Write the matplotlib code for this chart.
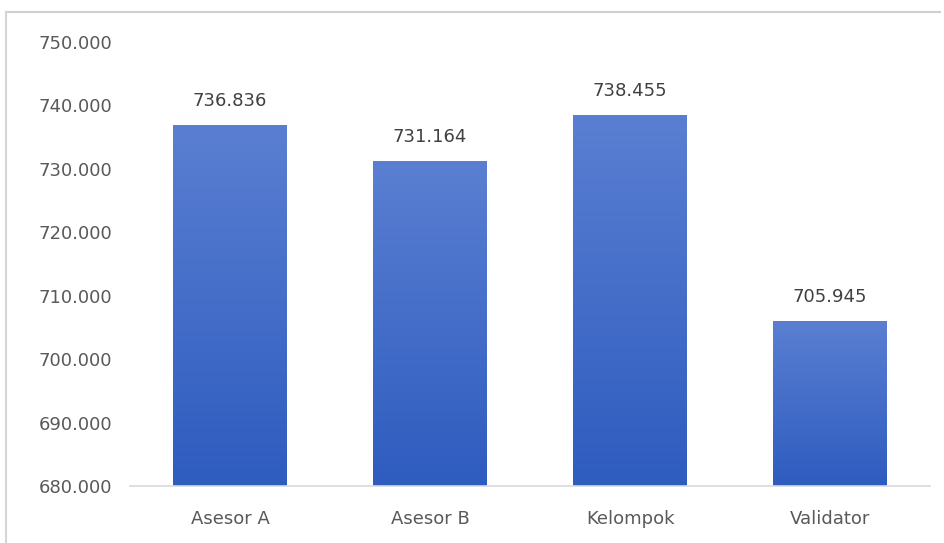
import matplotlib
matplotlib.use('Agg')
import matplotlib.pyplot as plt
from matplotlib.lines import Line2D
from matplotlib.ticker import FuncFormatter
import numpy as np

categories = ['Asesor A', 'Asesor B', 'Kelompok', 'Validator']
values = [736836, 731164, 738455, 705945]
y_ticks = [680000, 690000, 700000, 710000, 720000, 730000, 740000, 750000]


def fmt_id(v, pos=None):
  # Indonesian style thousands separator
  return f'{int(round(v)):,}'.replace(',', '.')


plt.rcParams['font.family'] = ['DejaVu Sans']

fig = plt.figure(figsize=(9.44, 5.43), dpi=100)
fig.patch.set_facecolor('white')

# screenshot frame: gray line at top and left
W, H = 944, 543
fig.add_artist(Line2D([6 / W, 940 / W], [1 - 12 / H, 1 - 12 / H], color='#cfcfcf', lw=1.5, transform=fig.transFigure))
fig.add_artist(Line2D([6 / W, 6 / W], [0, 1 - 12 / H], color='#d6d6d6', lw=1.5, transform=fig.transFigure))

ax = fig.add_axes([130 / W, 57 / H, 800 / W, 444 / H])
ax.set_facecolor('none')

x = np.arange(len(categories))
bars = ax.bar(x, values, width=0.57, color='#3f67c6', zorder=2)

ax.set_ylim(680000, 750000)
ax.set_xlim(-0.5, 3.5)

# gradient fill, lighter on top
grad = np.linspace(0, 1, 256).reshape(-1, 1)
cmap = matplotlib.colors.LinearSegmentedColormap.from_list('g', ['#2e5cbf', '#5a7fd2'])
for b in bars:
  x0, w, h = b.get_x(), b.get_width(), b.get_height()
  im = ax.imshow(grad, extent=[x0, x0 + w, 680000, h], origin='lower', aspect='auto', cmap=cmap, zorder=3)
  im.set_clip_path(b)

for xi, v in zip(x, values):
  ax.text(xi, v + 3800, fmt_id(v), ha='center', va='center', fontsize=13, color='#404040', zorder=4)

ax.set_yticks(y_ticks)
ax.yaxis.set_major_formatter(FuncFormatter(fmt_id))
ax.set_xticks(x)
ax.set_xticklabels(categories)
ax.tick_params(axis='both', length=0, labelsize=13, labelcolor='#595959')
ax.tick_params(axis='y', pad=13)
ax.tick_params(axis='x', pad=17)

for s in ['top', 'right', 'left']:
  ax.spines[s].set_visible(False)
ax.spines['bottom'].set_color('#d9d9d9')
ax.spines['bottom'].set_linewidth(1.2)
ax.spines['bottom'].set_zorder(5)

fig.savefig('out.png', dpi=100)
